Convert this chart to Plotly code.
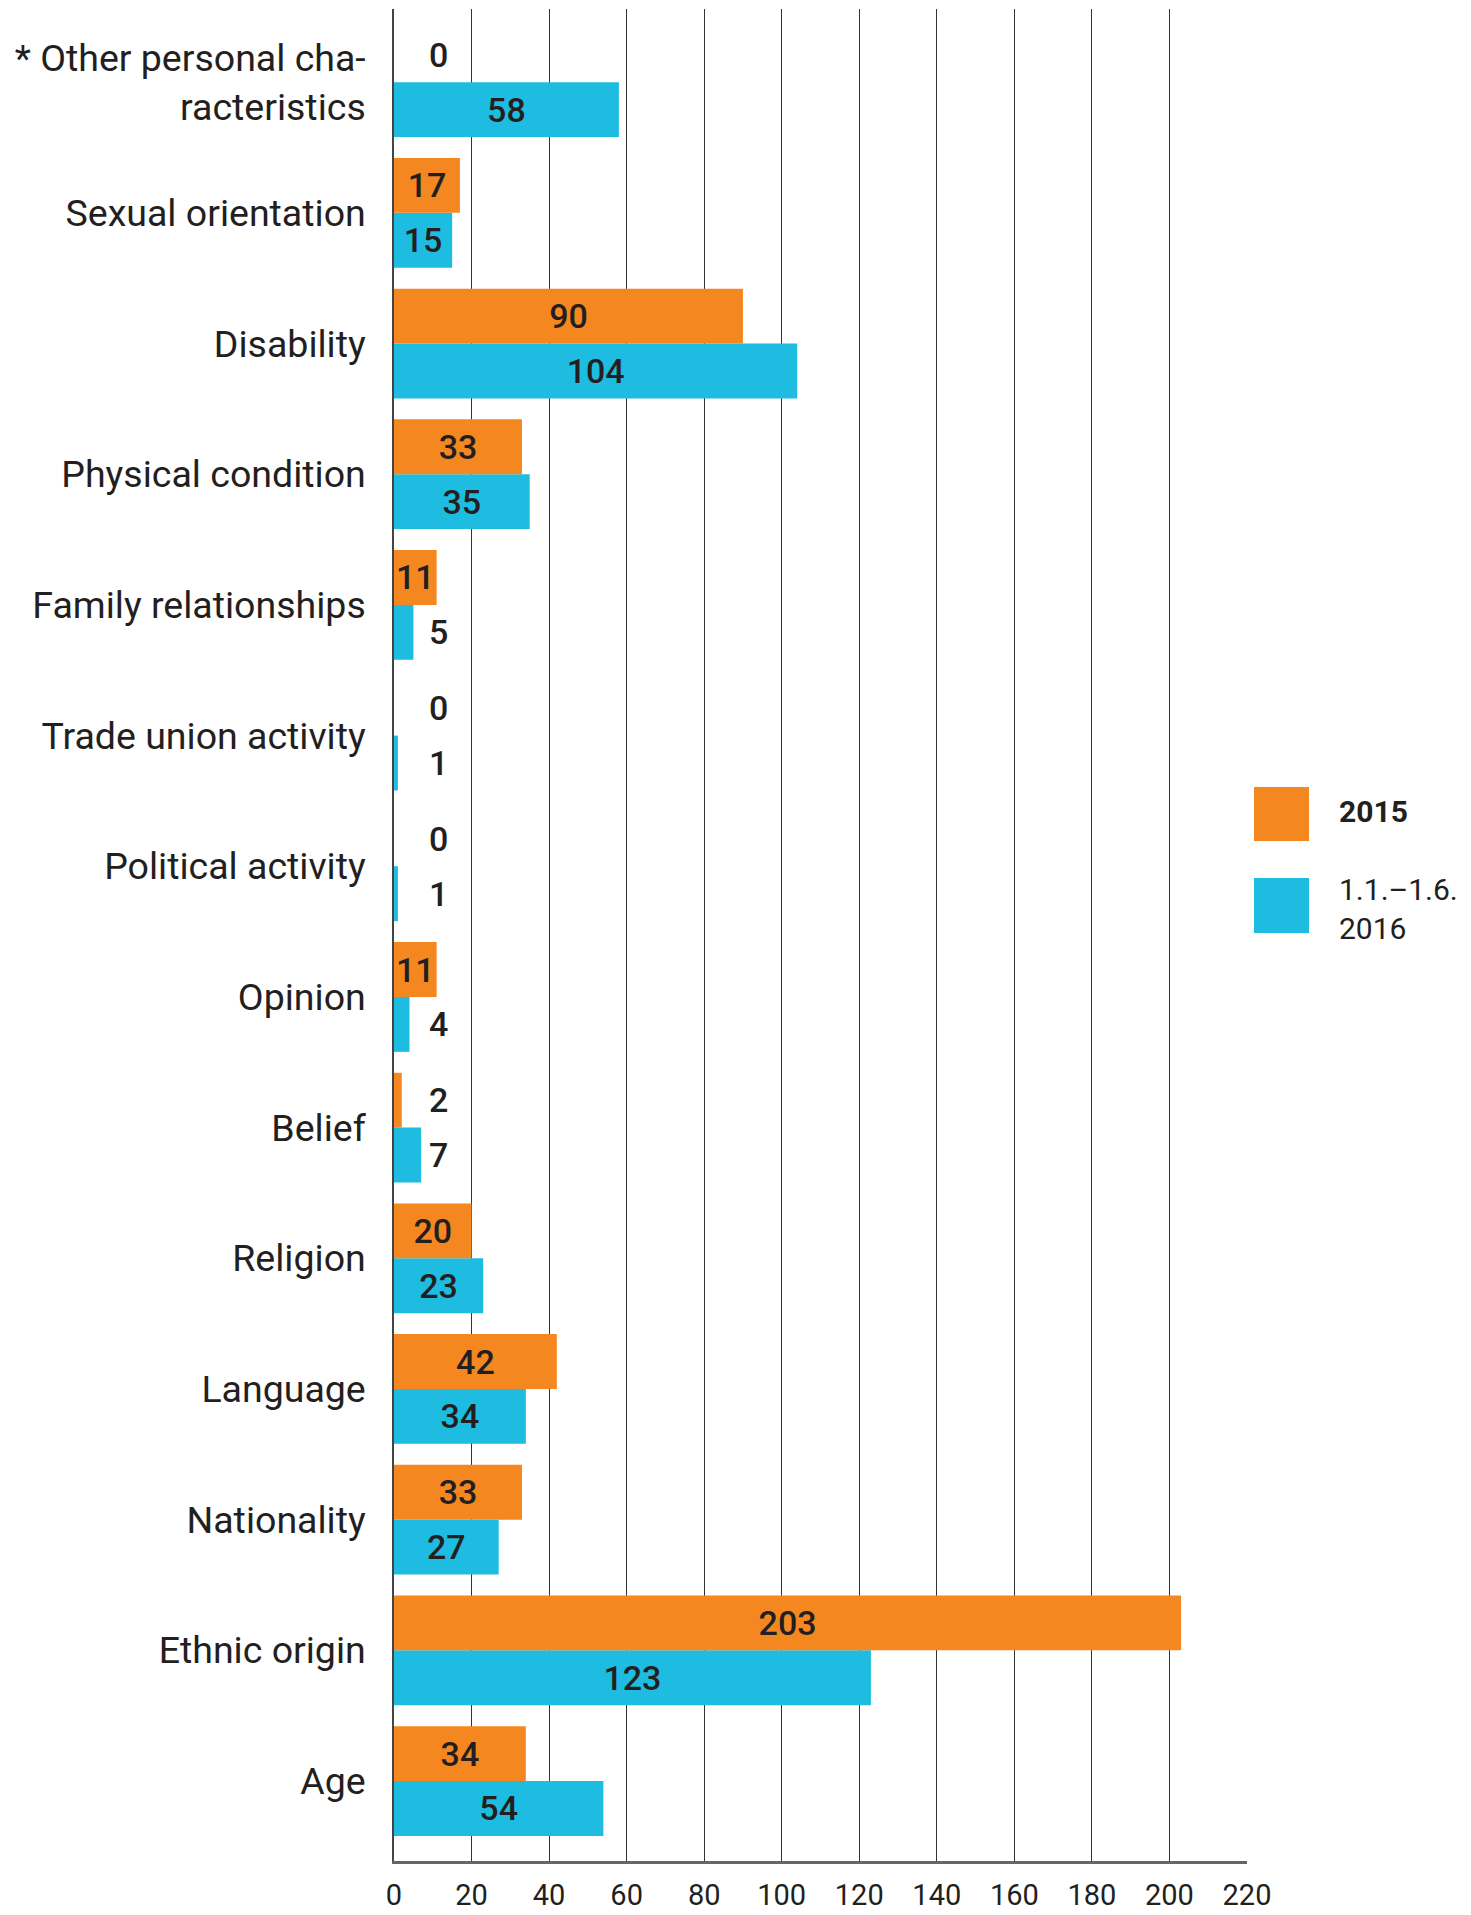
import plotly.graph_objects as go

# Data (bottom to top on the axis)
categories = ["Age", "Ethnic origin", "Nationality", "Language", "Religion", "Belief",
              "Opinion", "Political activity", "Trade union activity",
              "Family relationships", "Physical condition", "Disability",
              "Sexual orientation", "* Other personal cha-<br>racteristics"]
values_2015 = [34, 203, 33, 42, 20, 2, 11, 0, 0, 11, 33, 90, 17, 0]
values_2016 = [54, 123, 27, 34, 23, 7, 4, 1, 1, 5, 35, 104, 15, 58]
series_names = ["2015", "1.1.–1.6.<br>2016"]
x_ticks = [0, 20, 40, 60, 80, 100, 120, 140, 160, 180, 200, 220]

ORANGE = "#F58720"
BLUE = "#1DBCE0"
TEXT = "#231F20"
FONT = "Roboto"
SMALL_LIMIT = 10      # values below this get their label outside the bar
OUTSIDE_LABEL_X = 11.5

W, H = 1471, 1915
L, R, T, B = 394, 224, 9, 54

def inside_text(vals):
    return [str(v) if v >= SMALL_LIMIT else "" for v in vals]

label_font = dict(family=FONT, size=34, color=TEXT, weight=500)

fig = go.Figure()
# blue first so it sits below the orange bar in each group
fig.add_trace(go.Bar(
    y=categories, x=values_2016, orientation="h", name=series_names[1],
    marker=dict(color=BLUE, line=dict(width=0)),
    text=inside_text(values_2016), textposition="inside",
    insidetextanchor="middle", constraintext="none",
    textfont=label_font, showlegend=False,
))
fig.add_trace(go.Bar(
    y=categories, x=values_2015, orientation="h", name=series_names[0],
    marker=dict(color=ORANGE, line=dict(width=0)),
    text=inside_text(values_2015), textposition="inside",
    insidetextanchor="middle", constraintext="none",
    textfont=label_font, showlegend=False,
))

plot_h = H - T - B
n_span = (len(categories) - 1) + 0.612 + 0.56
cat_px = plot_h / n_span
bargap = 0.16
offset_px = (1 - bargap) / 4 * cat_px

annotations = []
for cat, v15, v16 in zip(categories, values_2015, values_2016):
    for v, shift in ((v15, offset_px), (v16, -offset_px)):
        if v < SMALL_LIMIT:
            annotations.append(dict(
                x=OUTSIDE_LABEL_X, y=cat, xref="x", yref="y", yshift=shift,
                text=str(v), showarrow=False, xanchor="center", yanchor="middle",
                font=label_font,
            ))

# legend (drawn manually to match the large swatches)
def px_x(p):
    return (p - L) / (W - L - R)

def px_y(p):
    return (H - B - p) / plot_h

shapes = [
    dict(type="rect", xref="paper", yref="paper",
         x0=px_x(1254), x1=px_x(1309), y0=px_y(841), y1=px_y(787),
         fillcolor=ORANGE, line=dict(width=0)),
    dict(type="rect", xref="paper", yref="paper",
         x0=px_x(1254), x1=px_x(1309), y0=px_y(933), y1=px_y(878),
         fillcolor=BLUE, line=dict(width=0)),
]
annotations.append(dict(
    x=px_x(1337), y=px_y(811), xref="paper", yref="paper", text="<b>" + series_names[0] + "</b>",
    showarrow=False, xanchor="left", yanchor="middle", align="left",
    font=dict(family=FONT, size=30, color=TEXT)))
annotations.append(dict(
    x=px_x(1337), y=px_y(909), xref="paper", yref="paper", text=series_names[1],
    showarrow=False, xanchor="left", yanchor="middle", align="left",
    font=dict(family=FONT, size=30, color=TEXT)))

fig.update_layout(
    width=W, height=H,
    margin=dict(l=L, r=R, t=T, b=B, pad=0, autoexpand=False),
    paper_bgcolor="white", plot_bgcolor="white",
    barmode="group", bargap=bargap, bargroupgap=0,
    showlegend=False,
    shapes=shapes, annotations=annotations,
    font=dict(family=FONT, color=TEXT),
    xaxis=dict(
        range=[0, 220], tickvals=x_ticks, ticktext=[str(t) for t in x_ticks],
        showgrid=True, gridcolor="#333333", gridwidth=1.3,
        zeroline=False, showline=True, linecolor="#666666", linewidth=3,
        ticks="", ticklabelstandoff=6, automargin=False,
        tickfont=dict(family=FONT, size=29, color=TEXT),
    ),
    yaxis=dict(
        categoryorder="array", categoryarray=categories,
        range=[-0.612, len(categories) - 1 + 0.56],
        showgrid=False, zeroline=False,
        showline=True, linecolor="#444444", linewidth=1.5,
        ticks="", ticklabelstandoff=19, automargin=False,
        tickfont=dict(family=FONT, size=37.5, color=TEXT),
    ),
)

post = (
    "document.documentElement.style.margin='0';"
    "document.documentElement.style.overflow='hidden';"
    "document.body.style.margin='0';"
    "document.body.style.overflow='hidden';"
    "var gd=document.getElementById('{plot_id}');"
    "gd.style.position='absolute';gd.style.left='0px';gd.style.top='0px';"
)
fig.write_html("out.html", post_script=post, config={"displayModeBar": False})
